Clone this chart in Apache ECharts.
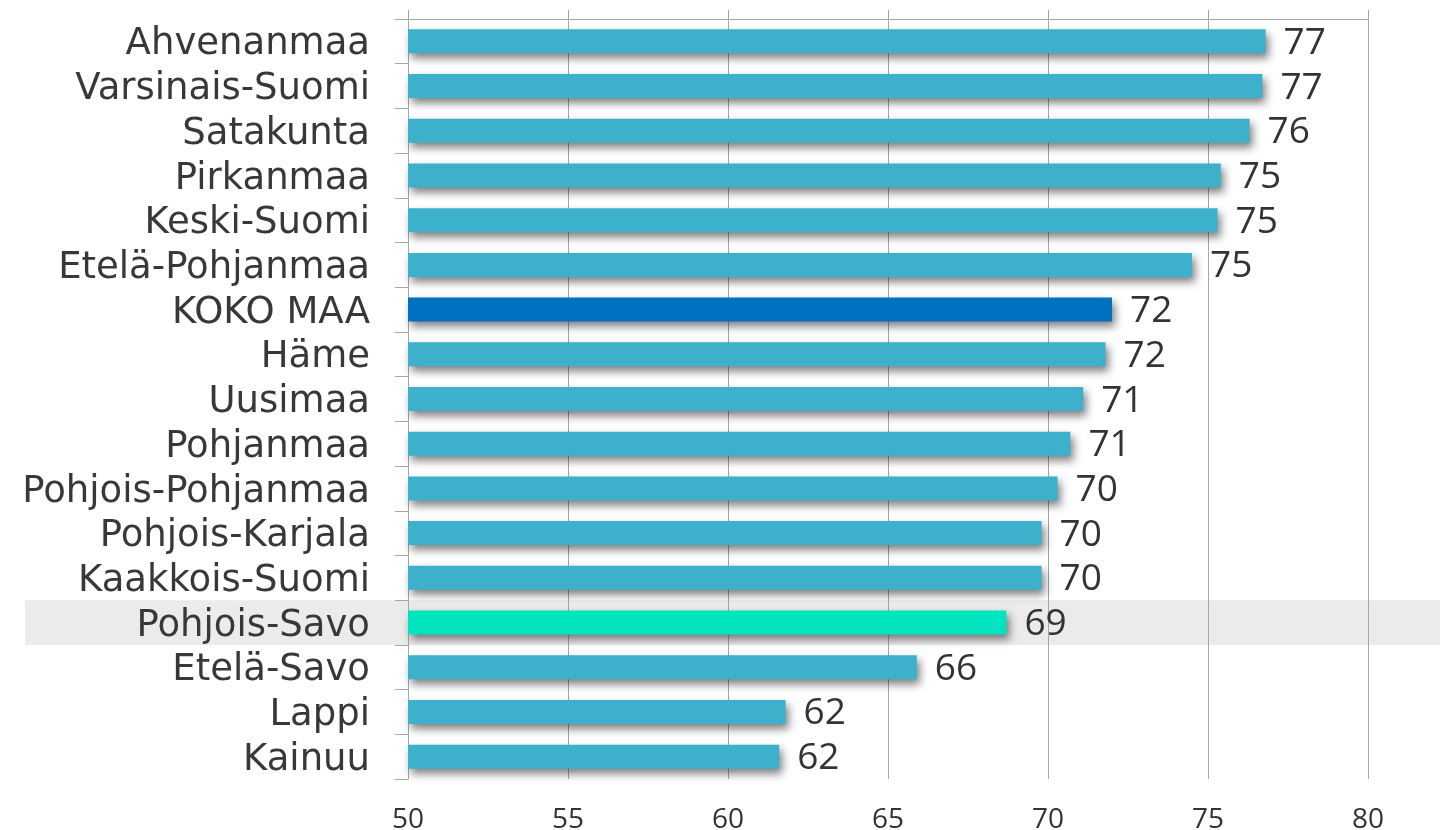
<!DOCTYPE html>
<html style="height: 100%">
<head>
<meta charset="utf-8">
<script src="https://cdn.jsdelivr.net/npm/echarts@6/dist/echarts.min.js"></script>
</head>
<body style="height: 100%; margin: 0; background: #fff">
<div id="container" style="width: 1440px; height: 830px"></div>
<script type="text/javascript">
var regions = ['Ahvenanmaa', 'Varsinais-Suomi', 'Satakunta', 'Pirkanmaa', 'Keski-Suomi',
    'Etelä-Pohjanmaa', 'KOKO MAA', 'Häme', 'Uusimaa', 'Pohjanmaa', 'Pohjois-Pohjanmaa',
    'Pohjois-Karjala', 'Kaakkois-Suomi', 'Pohjois-Savo', 'Etelä-Savo', 'Lappi', 'Kainuu'];
var values = [76.8, 76.7, 76.3, 75.4, 75.3, 74.5, 72.0, 71.8, 71.1, 70.7, 70.3,
    69.8, 69.8, 68.7, 65.9, 61.8, 61.6];
var xTicks = [50, 55, 60, 65, 70, 75, 80];
var wholeCountry = 'KOKO MAA';
var ownRegion = 'Pohjois-Savo';

var dom = document.getElementById('container');
var myChart = echarts.init(dom);

var gridTop = 19, gridBottom = 51;

var barData = values.map(function (v, i) {
    var c = '#3DB1CC';
    if (regions[i] === wholeCountry) c = '#0070C0';
    if (regions[i] === ownRegion) c = '#00E5BE';
    return { value: v, itemStyle: { color: c } };
});

var option = {
    animation: false,
    grid: { left: 408, right: 72, top: gridTop, bottom: gridBottom, outerBoundsMode: 'none' },
    xAxis: [
        {
            type: 'value', min: xTicks[0], max: xTicks[xTicks.length - 1], interval: 5,
            axisLine: { show: false },
            axisTick: { show: false },
            splitLine: { show: true, lineStyle: { color: '#A6A6A6', width: 1 } },
            axisLabel: {
                margin: 27, color: '#333',
                fontFamily: 'Open Sans', fontSize: 28
            }
        },
        {
            type: 'value', position: 'top', min: xTicks[0], max: xTicks[xTicks.length - 1], interval: 5,
            axisLine: { show: true, lineStyle: { color: '#A6A6A6' } },
            axisTick: { show: true, length: 9, lineStyle: { color: '#A6A6A6' } },
            splitLine: { show: false },
            axisLabel: { show: false }
        }
    ],
    yAxis: {
        type: 'category', data: regions, inverse: true,
        axisLine: { show: true, lineStyle: { color: '#A6A6A6' } },
        axisTick: { show: true, length: 13, interval: 0, lineStyle: { color: '#A6A6A6' } },
        axisLabel: {
            interval: 0, margin: 38,
            formatter: function (v) { return '{r|' + v + '}'; },
            rich: {
                r: {
                    color: '#383838', fontFamily: 'DejaVu Sans', fontSize: 37,
                    padding: [7, 0, 0, 0]
                }
            }
        }
    },
    series: [{
        type: 'bar',
        data: barData,
        barWidth: 24,
        itemStyle: {
            shadowColor: 'rgba(0,0,0,0.5)',
            shadowBlur: 8,
            shadowOffsetX: 3,
            shadowOffsetY: 5
        },
        label: {
            show: true, position: 'right', distance: 18, offset: [0, 2],
            color: '#333', fontFamily: 'Open Sans', fontSize: 37,
            formatter: function (p) { return Math.round(p.value); }
        },
        z: 3
    }]
};
myChart.setOption(option);

// grey band behind the own region row
var cy = myChart.convertToPixel({ yAxisIndex: 0 }, ownRegion);
var rowH = (830 - gridTop - gridBottom) / regions.length;
myChart.setOption({
    graphic: [{
        type: 'rect', z: -10,
        shape: { x: 25, y: cy - rowH / 2, width: 1415, height: rowH },
        style: { fill: '#EBEBEB' }
    }]
});
</script>
</body>
</html>
